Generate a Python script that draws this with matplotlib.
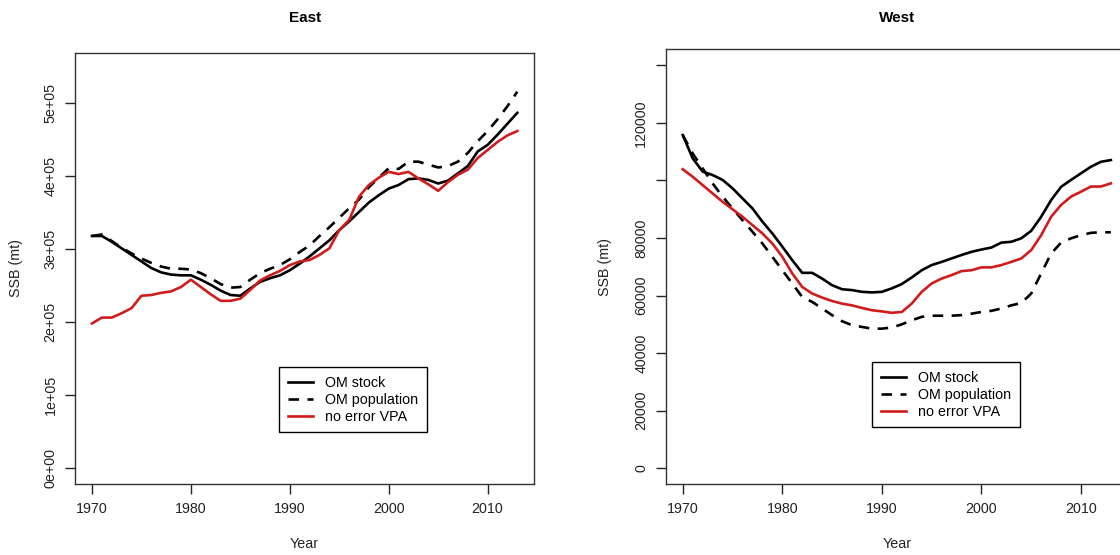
import numpy as np
import matplotlib.pyplot as plt

plt.rcParams['font.family'] = ['Liberation Sans', 'DejaVu Sans']

years = np.arange(1970, 2014)

# East SSB (mt)
east_stock = [318000, 318000, 310000, 301000, 292000, 283000, 274000, 268000, 265000, 264000,
              264000, 258000, 251000, 243000, 237000, 236000, 246000, 255000, 260000, 264000,
              271000, 280000, 290000, 301000, 312000, 326000, 338000, 351000, 364000, 374000,
              383000, 388000, 396000, 397000, 395000, 390000, 394000, 404000, 414000, 434000,
              443000, 457000, 472000, 487000]
east_pop = [318000, 320000, 311000, 302000, 294000, 287000, 281000, 276000, 273000, 273000,
            272000, 267000, 260000, 252000, 247000, 248000, 258000, 267000, 273000, 278000,
            286000, 296000, 305000, 318000, 330000, 343000, 356000, 368000, 385000, 398000,
            411000, 410000, 420000, 420000, 416000, 412000, 414000, 420000, 432000, 448000,
            462000, 478000, 496000, 516000]
east_vpa = [198000, 206000, 206000, 212000, 219000, 236000, 237000, 240000, 242000, 248000,
            258000, 248000, 238000, 229000, 229000, 232000, 244000, 257000, 264000, 270000,
            278000, 283000, 285000, 292000, 301000, 326000, 340000, 372000, 388000, 398000,
            406000, 403000, 406000, 397000, 389000, 380000, 392000, 402000, 409000, 425000,
            436000, 447000, 456000, 462000]

# West SSB (mt)
west_stock = [115800, 107700, 103100, 101900, 100200, 97300, 93800, 90300, 85700, 81600,
              77000, 72300, 67900, 67900, 65900, 63600, 62200, 61900, 61300, 61100,
              61300, 62500, 64000, 66300, 68800, 70600, 71700, 72900, 74100, 75200,
              76000, 76700, 78400, 78700, 79900, 82500, 87400, 93200, 97800, 100200,
              102500, 104800, 106500, 107100]
west_pop = [115800, 109400, 104200, 99000, 94400, 90300, 86200, 82200, 78100, 73500,
            68800, 64200, 59500, 57800, 55500, 53200, 51100, 49700, 49100, 48500,
            48500, 48900, 50000, 51400, 52600, 53000, 53000, 53000, 53200, 53700,
            54300, 54700, 55500, 56600, 57400, 60700, 67700, 74600, 78400, 79900,
            81000, 81800, 82000, 82000]
west_vpa = [103900, 101300, 98400, 95500, 92600, 90000, 87400, 84500, 81600, 78100,
            73500, 67700, 63000, 60700, 59300, 58100, 57200, 56600, 55700, 54900,
            54500, 54000, 54300, 57200, 61300, 64200, 65900, 67100, 68500, 68800,
            69800, 69800, 70600, 71700, 72900, 75800, 81000, 87400, 91500, 94400,
            96100, 97900, 97900, 99000]

labels = ['OM stock', 'OM population', 'no error VPA']
W, H = 1120, 555
FS = 10.3

fig = plt.figure(figsize=(W / 100, H / 100), dpi=100)


def px_axes(l, t, r, b):
    return fig.add_axes([l / W, 1 - b / H, (r - l) / W, (b - t) / H])


def panel(ax, box, title, stock, pop, vpa, ylim, yticks, yticklabels, ylab_x, leg_xy):
    l, t, r, b = box
    ax.plot(years, stock, color='black', lw=1.9, label=labels[0])
    ax.plot(years, pop, color='black', lw=1.9, ls=(0, (4, 3.2)), label=labels[1])
    ax.plot(years, vpa, color='#d01c1c', lw=1.9, label=labels[2])
    ax.set_xlim(1968.28, 2014.72)
    ax.set_ylim(*ylim)
    ax.set_xticks([1970, 1980, 1990, 2000, 2010])
    ax.set_yticks(yticks)
    ax.set_yticklabels(yticklabels, rotation=90, va='center')
    ax.tick_params(direction='out', length=7, width=1, labelsize=FS, colors='#222222')
    ax.tick_params(axis='x', pad=6)
    ax.tick_params(axis='y', pad=5.5)
    for s in ax.spines.values():
        s.set_color('#333333')
        s.set_linewidth(1)

    # title, axis labels placed in pixel terms relative to the box
    ax.text(0.5, 1 + (t - 18) / (b - t), title, transform=ax.transAxes,
            ha='center', va='center', fontsize=11, fontweight='bold')
    ax.set_xlabel('Year', fontsize=FS, color='#222222')
    ax.xaxis.label.set_va('center')
    ax.xaxis.set_label_coords(0.5, -(544 - b) / (b - t))
    ax.set_ylabel('SSB (mt)', fontsize=FS, color='#222222')
    ax.yaxis.label.set_va('center')
    ax.yaxis.set_label_coords((ylab_x - l) / (r - l), 0.5)

    leg = ax.legend(loc='upper left', bbox_to_anchor=(leg_xy[0] / W, 1 - leg_xy[1] / H),
                    bbox_transform=fig.transFigure, fontsize=FS, frameon=True,
                    fancybox=False, framealpha=1, edgecolor='black', borderpad=0.6,
                    handlelength=1.76, handletextpad=0.88, labelspacing=0.22,
                    borderaxespad=0)
    leg.get_frame().set_linewidth(1)


east_box = (75, 52.5, 534.3, 483.5)
ax1 = px_axes(*east_box)
panel(ax1, east_box, 'East', east_stock, east_pop, east_vpa, (-21700, 569800),
      [0, 100000, 200000, 300000, 400000, 500000],
      ['0e+00', '1e+05', '2e+05', '3e+05', '4e+05', '5e+05'], 16, (279, 367))

west_box = (665.6, 49.3, 1128, 484.3)
ax2 = px_axes(*west_box)
panel(ax2, west_box, 'West', west_stock, west_pop, west_vpa, (-5600, 145600),
      [0, 20000, 40000, 60000, 80000, 100000, 120000, 140000],
      ['0', '20000', '40000', '60000', '80000', '', '120000', ''], 605, (872, 362))

fig.savefig('out.png', dpi=100)
